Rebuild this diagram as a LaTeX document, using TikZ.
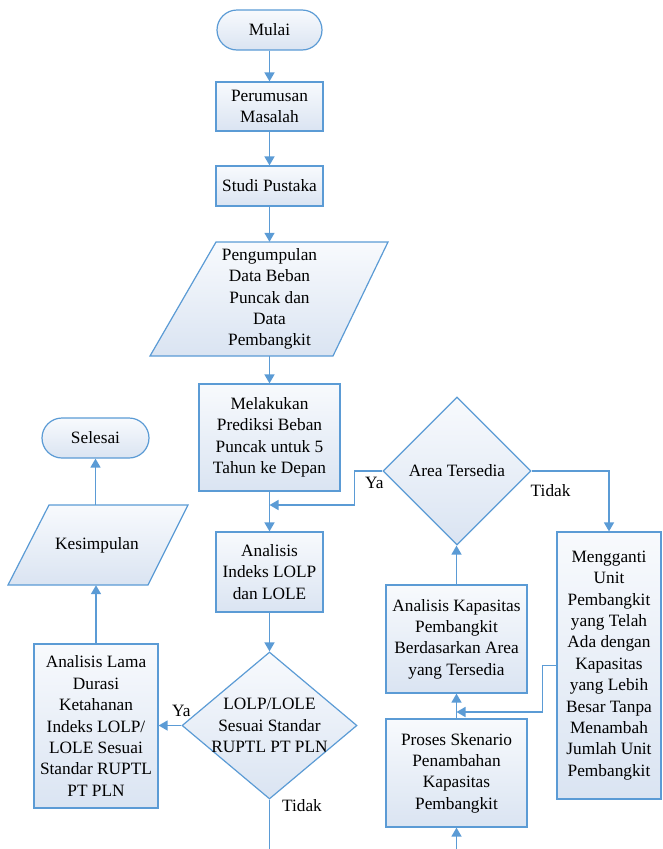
\documentclass[tikz,border=0pt]{standalone}
\usepackage{fontspec}
\setmainfont{Liberation Serif}
\newfontfamily\hurufdiagram{Liberation Serif}
\usetikzlibrary{shapes.geometric,arrows.meta,positioning,calc}

\definecolor{garis}{RGB}{91,155,213}
\definecolor{isiatas}{RGB}{248,250,253}
\definecolor{isibawah}{RGB}{218,228,242}

\tikzset{
    dasar/.style={draw=garis, line width=1.2pt, top color=isiatas, bottom color=isibawah,
        align=center, inner sep=2pt, font=\hurufdiagram\fontsize{17.3}{21.4}\selectfont},
    kotak/.style={dasar, rectangle},
    terminal/.style={dasar, rectangle, rounded corners=20pt},
    bentukdata/.style={draw=garis, line width=1.2pt, top color=isiatas, bottom color=isibawah, line join=miter},
    keputusan/.style={dasar, diamond, inner sep=0pt},
    teks/.style={align=center, inner sep=0pt, font=\hurufdiagram\fontsize{17.3}{21.4}\selectfont},
    panah/.style={draw=garis, line width=1.5pt, -{Triangle[length=9pt,width=10pt]}},
    garisan/.style={draw=garis, line width=1.5pt}
}

\begin{document}
\begin{tikzpicture}[x=1pt, y=-1pt]
    \useasboundingbox (0,0) rectangle (662,849);

    % jajar genjang data
    \path[bentukdata] (216,242) -- (388,242) -- (333,356) -- (150,356) -- cycle;
    \path[bentukdata] (49,505) -- (188,505) -- (148,585) -- (8,585) -- cycle;

    % alur utama
    \node[terminal, minimum width=105pt, minimum height=40pt] (mulai) at (269.5,30) {Mulai};
    \node[kotak, minimum width=107pt, minimum height=49pt] (rumusan) at (269.5,106.5) {Perumusan\\Masalah};
    \node[kotak, minimum width=107pt, minimum height=40pt] (studi) at (269.5,186) {Studi Pustaka};
    \node[teks, minimum height=114pt] (data) at (269.5,299)
        {Pengumpulan\\Data Beban\\Puncak dan\\Data\\Pembangkit};
    \node[kotak, minimum width=141pt, minimum height=107pt] (prediksi) at (269.5,437.5)
        {Melakukan\\Prediksi Beban\\Puncak untuk 5\\Tahun ke Depan};
    \node[kotak, minimum width=107pt, minimum height=80pt] (indeks) at (269.5,572)
        {Analisis\\Indeks LOLP\\dan LOLE};
    \node[keputusan, minimum width=175pt, minimum height=147pt] (cek) at (269.5,725.5) {};
    \node[teks] (cekteks) at (cek) {LOLP/LOLE\\Sesuai Standar\\RUPTL PT PLN};

    % cabang Ya
    \node[kotak, minimum width=124pt, minimum height=164pt] (durasi) at (96,726)
        {Analisis Lama\\Durasi\\Ketahanan\\Indeks LOLP/\\LOLE Sesuai\\Standar RUPTL\\PT PLN};
    \node[teks, minimum height=80pt] (simpul) at (97,545) {Kesimpulan};
    \node[terminal, minimum width=107pt, minimum height=40pt] (selesai) at (95.5,438) {Selesai};

    % skenario
    \node[kotak, minimum width=141pt, minimum height=108pt] (skenario) at (456.5,773)
        {Proses Skenario\\Penambahan\\Kapasitas\\Pembangkit};
    \node[kotak, minimum width=141pt, minimum height=108pt] (kapasitas) at (456.5,639)
        {Analisis Kapasitas\\Pembangkit\\Berdasarkan Area\\yang Tersedia};
    \node[keputusan, minimum width=148pt, minimum height=148pt] (area) at (457,471) {Area Tersedia};
    \node[kotak, minimum width=104pt, minimum height=267pt] (ganti) at (609,665.5)
        {Mengganti\\Unit\\Pembangkit\\yang Telah\\Ada dengan\\Kapasitas\\yang Lebih\\Besar Tanpa\\Menambah\\Jumlah Unit\\Pembangkit};

    \coordinate (jn1) at (269.5,505);
    \coordinate (jn2) at (456.5,712);
    \coordinate (turun1) at (269.5,852);
    \coordinate (turun2) at (456.5,852);

    % panah
    \draw[panah] (mulai) -- (rumusan);
    \draw[panah] (rumusan) -- (studi);
    \draw[panah] (studi) -- (data);
    \draw[panah] (data) -- (prediksi);
    \draw[panah] (prediksi) -- (indeks);
    \draw[panah] (indeks) -- (cek);
    \draw[panah] (cek.west) -- (cek.west -| durasi.east);
    \draw[garisan] (cek.south) -- (turun1);
    \draw[panah] (durasi.north) -- (durasi.north |- simpul.south);
    \draw[panah] (selesai.south |- simpul.north) -- (selesai.south);

    \draw[panah] (turun2) -- (skenario);
    \draw[panah] (skenario) -- (kapasitas);
    \draw[panah] (kapasitas.north) -- (kapasitas.north |- area.south);
    \draw[panah] (area.east) -| (ganti.north);
    \draw[panah] (area.west) -- ++(-28,0) |- (jn1);
    \draw[panah] (ganti.west) -- ++(-14,0) |- (jn2);

    % label
    \node[teks] (ya1) at ($(cek.west)+(0,-14.5)$) {Ya};
    \node[teks] (tidak1) at ($(cek.south)+(32.5,6)$) {Tidak};
    \node[teks] (ya2) at ($(area.west)+(-8,12)$) {Ya};
    \node[teks] (tidak2) at ($(area.east)+(19,20)$) {Tidak};
\end{tikzpicture}
\end{document}
